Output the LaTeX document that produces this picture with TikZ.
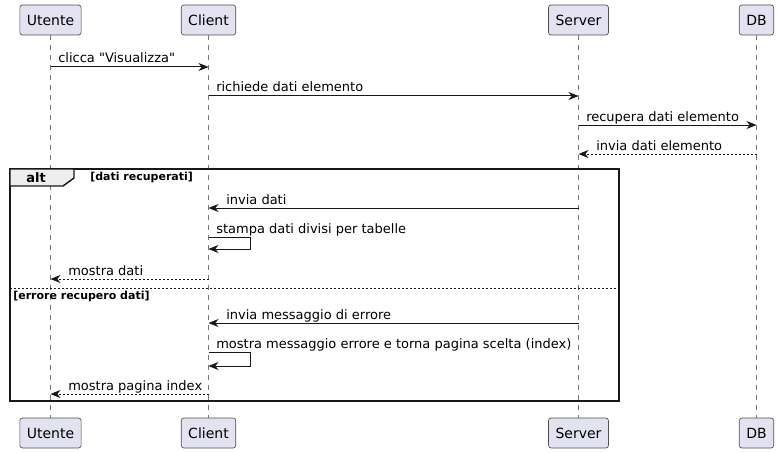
\documentclass[tikz,border=0pt]{standalone}
\usepackage{fontspec}
\setmainfont{DejaVu Sans}
\usetikzlibrary{arrows.meta}
\definecolor{pfill}{HTML}{E2E2F0}
\definecolor{ink}{HTML}{181818}
\definecolor{pborder}{HTML}{505050}
\definecolor{tabfill}{HTML}{EEEEEE}
\definecolor{lifegray}{HTML}{777777}
\begin{document}
\begin{tikzpicture}[x=0.75pt,y=-0.75pt,
  part/.style={draw=pborder, fill=pfill, rounded corners=2pt, line width=0.5pt,
    minimum height=22.5pt, inner xsep=5.25pt, inner ysep=0pt,
    font=\fontsize{10.5pt}{12pt}\selectfont},
  life/.style={draw=lifegray, line width=0.5pt, dash pattern=on 3.75pt off 3.75pt},
  msgarrow/.style={draw=ink, line width=0.75pt, -{Stealth[length=7.5pt,width=6pt,inset=2.4pt]}},
  retarrow/.style={msgarrow, dash pattern=on 1.5pt off 1.5pt},
  msg/.style={anchor=base west, inner sep=0pt, font=\fontsize{9.75pt}{11pt}\selectfont, text=black},
  cond/.style={anchor=west, inner sep=0pt, font=\bfseries\fontsize{8.25pt}{9pt}\selectfont},
  framebox/.style={draw=ink, line width=1.1pt}
]
\useasboundingbox (0,0) rectangle (778,453);

% participants (top)
\node[part] (ut) at (50.5,20) {Utente};
\node[part] (cl) at (208.5,20) {Client};
\node[part] (sv) at (578.5,20) {Server};
\node[part] (db) at (756.5,20) {DB};
% participants (bottom)
\node[part] (utb) at (50.5,433) {Utente};
\node[part] (clb) at (208.5,433) {Client};
\node[part] (svb) at (578.5,433) {Server};
\node[part] (dbb) at (756.5,433) {DB};

% lifelines
\draw[life] (ut.south) -- (utb.north);
\draw[life] (cl.south) -- (clb.north);
\draw[life] (sv.south) -- (svb.north);
\draw[life] (db.south) -- (dbb.north);

% row coordinates
\coordinate (r1) at (0,67);
\coordinate (r2) at (0,96);
\coordinate (r3) at (0,125);
\coordinate (r4) at (0,154);
\coordinate (r5) at (0,208);
\coordinate (r6a) at (0,237);
\coordinate (r6b) at (0,249);
\coordinate (r7) at (0,279);
\coordinate (r8) at (0,323);
\coordinate (r9a) at (0,352);
\coordinate (r9b) at (0,366);
\coordinate (r10) at (0,394);
\coordinate (selfx) at (250,0);

% alt frame
\draw[framebox] (10,169) rectangle (619,401);
\draw[framebox, fill=tabfill] (10,169) -- (74,169) -- (74,178) -- (63,186) -- (10,186) -- cycle;
\node[font=\bfseries\fontsize{9.75pt}{11pt}\selectfont, inner sep=0pt] (altlbl) at (36,177.5) {alt};
\node[cond] (c1) at (90,177.5) {[dati recuperati]};
\draw[draw=ink, line width=0.5pt, dash pattern=on 1.5pt off 1.5pt] (10,288) -- (619,288);
\node[cond] (c2) at (13,296.5) {[errore recupero dati]};

% messages
\draw[msgarrow] (ut |- r1) -- (cl |- r1);
\node[msg] (m1) at (58,63) {clicca \textquotedbl Visualizza\textquotedbl};

\draw[msgarrow] (cl |- r2) -- (sv |- r2);
\node[msg] (m2) at (216,92) {richiede dati elemento};

\draw[msgarrow] (sv |- r3) -- (db |- r3);
\node[msg] (m3) at (586,121) {recupera dati elemento};

\draw[retarrow] (db |- r4) -- (sv |- r4);
\node[msg] (m4) at (596,150) {invia dati elemento};

\draw[msgarrow] (sv |- r5) -- (cl |- r5);
\node[msg] (m5) at (226,204) {invia dati};

\draw[msgarrow] (cl |- r6a) -- (selfx |- r6a) -- (selfx |- r6b) -- (cl |- r6b);
\node[msg] (m6) at (216,233) {stampa dati divisi per tabelle};

\draw[retarrow] (cl |- r7) -- (ut |- r7);
\node[msg] (m7) at (68,275) {mostra dati};

\draw[msgarrow] (sv |- r8) -- (cl |- r8);
\node[msg] (m8) at (226,319) {invia messaggio di errore};

\draw[msgarrow] (cl |- r9a) -- (selfx |- r9a) -- (selfx |- r9b) -- (cl |- r9b);
\node[msg] (m9) at (216,348) {mostra messaggio errore e torna pagina scelta (index)};

\draw[retarrow] (cl |- r10) -- (ut |- r10);
\node[msg] (m10) at (68,390) {mostra pagina index};
\end{tikzpicture}
\end{document}
